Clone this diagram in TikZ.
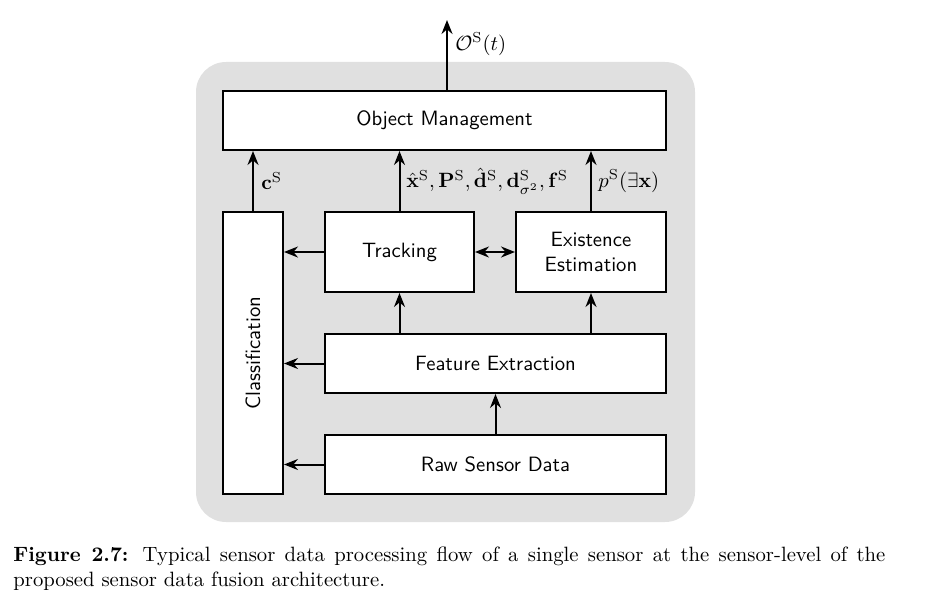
\documentclass[tikz,border=0pt]{standalone}
\usepackage{graphicx}
\usepackage{amsmath,amssymb}
\usetikzlibrary{arrows.meta}
\definecolor{bggray}{RGB}{224,224,224}
\newcommand{\fsz}{\fontsize{10.35}{12.5}\selectfont}
\newcommand{\mlbl}[1]{\scalebox{1.035}{$#1$}}
\begin{document}
\begin{tikzpicture}[x=0.5pt,y=-0.5pt,
  blk/.style={draw,fill=white,line width=1pt,font=\fsz\sffamily,inner sep=0pt,align=center},
  arr/.style={line width=1pt,-{Stealth[length=7pt,width=5.5pt,inset=2.3pt]}},
  darr/.style={line width=1pt,{Stealth[length=7pt,width=5.5pt,inset=2.3pt]}-{Stealth[length=7pt,width=5.5pt,inset=2.3pt]}},
  lbl/.style={inner sep=0pt,anchor=west}]
\useasboundingbox (0,0) rectangle (930,599);
\fill[bggray,rounded corners=15pt] (196,62) rectangle (695,522);
\node[blk,minimum width=221.5pt,minimum height=29.5pt] (om) at (444.5,120.5) {Object Management};
\node[blk,minimum width=30pt,minimum height=141pt] (cl) at (253,353) {};
\node[rotate=90,font=\fsz\sffamily,inner sep=0pt] (cltext) at (cl.center) {Classification};
\node[blk,minimum width=74.5pt,minimum height=40pt] (tr) at (399.5,252) {Tracking};
\node[blk,minimum width=75pt,minimum height=40pt] (ex) at (591,252) {Existence\\Estimation};
\node[blk,minimum width=170.5pt,minimum height=29.5pt] (fe) at (495.5,363.5) {Feature Extraction};
\node[blk,minimum width=170.5pt,minimum height=29.5pt] (rs) at (495.5,464.5) {Raw Sensor Data};
\coordinate (out) at (447,20);
% arrows
\draw[arr] (om.north -| out) -- (out);
\draw[arr] (cl.north) -- (cl.north |- om.south);
\draw[arr] (tr.north) -- (tr.north |- om.south);
\draw[arr] (ex.north) -- (ex.north |- om.south);
\draw[arr] (tr.west) -- (tr.west -| cl.east);
\draw[arr] (fe.west) -- (fe.west -| cl.east);
\draw[arr] (rs.west) -- (rs.west -| cl.east);
\draw[darr] (tr.east) -- (ex.west);
\draw[arr] (tr.south |- fe.north) -- (tr.south);
\draw[arr] (ex.south |- fe.north) -- (ex.south);
\draw[arr] (rs.north) -- (fe.south);
% labels
\node[lbl] (lout) at (455,44) {\mlbl{\mathcal{O}^{\mathrm{S}}(t)}};
\node[lbl] (lc) at (261,181) {\mlbl{\mathbf{c}^{\mathrm{S}}}};
\node[lbl] (ltr) at (406,181) {\mlbl{\hat{\mathbf{x}}^{\mathrm{S}},\mathbf{P}^{\mathrm{S}},\hat{\mathbf{d}}^{\mathrm{S}},\mathbf{d}^{\mathrm{S}}_{\sigma^2},\mathbf{f}^{\mathrm{S}}}};
\node[lbl] (lex) at (598,181) {\mlbl{p^{\mathrm{S}}(\exists\mathbf{x})}};
% caption
\node[anchor=north west,inner sep=0pt,text width=436pt,align=justify,font=\fsz] (cap) at (13,546)
  {\textbf{Figure 2.7:} Typical sensor data processing flow of a single sensor at the sensor-level of the proposed sensor data fusion architecture.};
\end{tikzpicture}
\end{document}
